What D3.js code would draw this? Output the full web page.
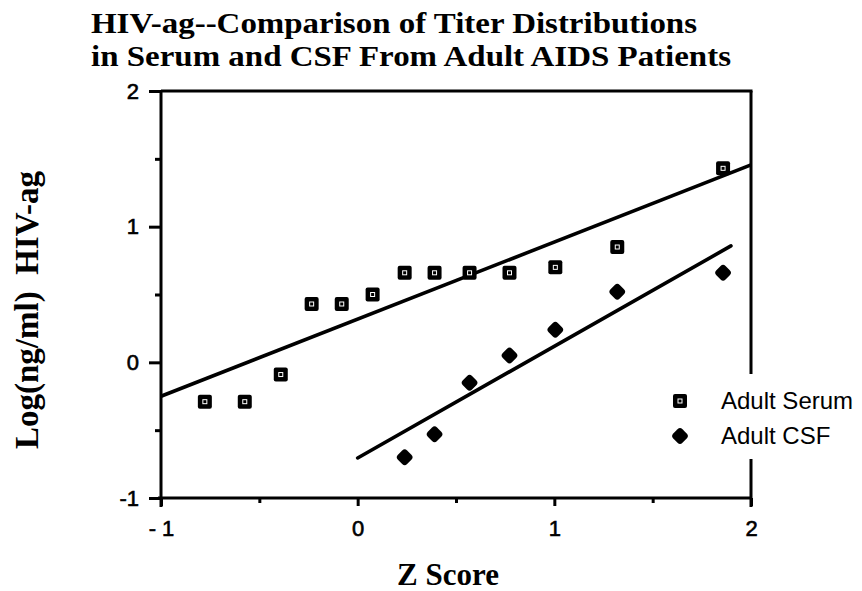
<!DOCTYPE html>
<html>
<head>
<meta charset="utf-8">
<script src="https://cdn.jsdelivr.net/npm/d3@7"></script>
<style>
  html, body { margin: 0; padding: 0; background: #fff; }
  svg { display: block; }
</style>
</head>
<body>
<svg id="chart" width="862" height="591"></svg>
<script>
// ---- data ----
const titleLines = ["HIV-ag--Comparison of Titer Distributions", "in Serum and CSF From Adult AIDS Patients"];
const xLabel = "Z Score";
const yLabel = "Log(ng/ml)\u00A0\u00A0HIV-ag";
const seriesNames = ["Adult Serum", "Adult CSF"];

const serumZ = [-0.777, -0.574, -0.391, -0.234, -0.081, 0.076, 0.239, 0.391, 0.569, 0.772, 1.005, 1.320, 1.858];
const serumY = [-0.29, -0.29, -0.09, 0.43, 0.43, 0.50, 0.66, 0.66, 0.66, 0.66, 0.70, 0.85, 1.43];
const csfZ = [0.239, 0.391, 0.569, 0.772, 1.005, 1.320, 1.858];
const csfY = [-0.70, -0.53, -0.15, 0.05, 0.24, 0.52, 0.66];

// fitted regression lines (endpoints)
const serumFitZ = [-1, 2];
const serumFitY = [-0.25, 1.455];
const csfFitZ = [0, 1.898];
const csfFitY = [-0.705, 0.858];

const xTicks = [-1, 0, 1, 2];
const xTickLabels = ["- 1", "0", "1", "2"];
const xMinorTicks = [-0.5, 0.5, 1.5];
const yTicks = [-1, 0, 1, 2];
const yTickLabels = ["-1", "0", "1", "2"];
const yMinorTicks = [-0.5, 0.5, 1.5];

// ---- layout ----
const L = 161, R = 751, T = 91, B = 498;
const svg = d3.select("#chart");
const x = d3.scaleLinear().domain([-1, 2]).range([L, R]);
const y = d3.scaleLinear().domain([-1, 2]).range([B, T]);

const serif = "'Liberation Serif', 'Times New Roman', serif";
const sans = "'Liberation Sans', Arial, Helvetica, sans-serif";

// title (two lines, slightly widened to match the original face)
const titleWidths = [606, 640];
svg.append("g").selectAll("text").data(titleLines).join("text")
  .attr("x", 91).attr("y", (d, i) => 33 + i * 33)
  .attr("font-family", serif).attr("font-weight", "bold").attr("font-size", 29.5)
  .attr("textLength", (d, i) => titleWidths[i]).attr("lengthAdjust", "spacingAndGlyphs")
  .attr("fill", "#000").text(d => d);

// frame
const frame = svg.append("g").attr("stroke", "#000").attr("stroke-width", 3).attr("fill", "none");
frame.append("line").attr("x1", x(-1) - 3).attr("x2", x(2)).attr("y1", y(-1)).attr("y2", y(-1));
frame.append("line").attr("x1", x(-1)).attr("x2", x(2) + 1.5).attr("y1", y(2)).attr("y2", y(2));
frame.append("line").attr("x1", x(-1)).attr("x2", x(-1)).attr("y1", y(2)).attr("y2", y(-1) + 9);
frame.append("line").attr("x1", x(2)).attr("x2", x(2)).attr("y1", y(2)).attr("y2", y(-1) + 9);

// axes (ticks + labels via d3 axes)
const yAxis = svg.append("g").attr("transform", `translate(${L},0)`)
  .call(d3.axisLeft(y).tickValues(yTicks).tickSize(12).tickPadding(10)
    .tickFormat((d, i) => yTickLabels[i]));
const yMinor = svg.append("g").attr("transform", `translate(${L},0)`)
  .call(d3.axisLeft(y).tickValues(yMinorTicks).tickSize(6).tickFormat(""));
const xAxis = svg.append("g").attr("transform", `translate(0,${B})`)
  .call(d3.axisBottom(x).tickValues(xTicks).tickSize(8).tickPadding(14)
    .tickFormat((d, i) => xTickLabels[i]));
const xMinor = svg.append("g").attr("transform", `translate(0,${B})`)
  .call(d3.axisBottom(x).tickValues(xMinorTicks).tickSize(5).tickFormat(""));

[yAxis, yMinor, xAxis, xMinor].forEach(g => {
  g.select(".domain").remove();
  g.selectAll(".tick line").attr("stroke", "#000").attr("stroke-width", 3);
  g.selectAll(".tick text").attr("font-family", sans).attr("font-size", 22).attr("fill", "#000")
    .attr("stroke", "#000").attr("stroke-width", 0.6);
});

// axis titles
svg.append("text")
  .attr("x", x(0.5) - 8).attr("y", 585)
  .attr("text-anchor", "middle")
  .attr("font-family", serif).attr("font-weight", "bold").attr("font-size", 31)
  .text(xLabel);
svg.append("text")
  .attr("transform", `translate(38,${310}) rotate(-90)`)
  .attr("text-anchor", "middle")
  .attr("font-family", serif).attr("font-weight", "bold").attr("font-size", 33)
  .text(yLabel);

// fit lines
const line = d3.line().x(d => x(d[0])).y(d => y(d[1]));
svg.append("path").datum(d3.zip(serumFitZ, serumFitY))
  .attr("d", line).attr("stroke", "#000").attr("stroke-width", 3.6).attr("fill", "none");
svg.append("path").datum(d3.zip(csfFitZ, csfFitY))
  .attr("d", line).attr("stroke", "#000").attr("stroke-width", 3.6).attr("fill", "none")
  .attr("stroke-linecap", "round");

// markers
function squareMarker(g) {
  g.append("rect").attr("x", -7).attr("y", -7).attr("width", 14).attr("height", 14)
    .attr("rx", 2).attr("fill", "#000");
  g.append("rect").attr("x", -2).attr("y", -2).attr("width", 4).attr("height", 4)
    .attr("fill", "none").attr("stroke", "#fff").attr("stroke-width", 1);
}
function diamondMarker(g) {
  g.append("rect").attr("x", -6.5).attr("y", -6.5).attr("width", 13).attr("height", 13)
    .attr("rx", 3.5).attr("fill", "#000").attr("transform", "rotate(45)");
}
svg.append("g").selectAll("g").data(d3.zip(serumZ, serumY)).join("g")
  .attr("transform", d => `translate(${x(d[0])},${y(d[1])})`)
  .each(function () { squareMarker(d3.select(this)); });
svg.append("g").selectAll("g").data(d3.zip(csfZ, csfY)).join("g")
  .attr("transform", d => `translate(${x(d[0])},${y(d[1])})`)
  .each(function () { diamondMarker(d3.select(this)); });

// legend (white background covers the right frame)
const lg = svg.append("g");
lg.append("rect").attr("x", 664).attr("y", 374).attr("width", 198).attr("height", 85).attr("fill", "#fff");
const legendItems = [
  { name: seriesNames[0], marker: squareMarker, cy: 401 },
  { name: seriesNames[1], marker: diamondMarker, cy: 436 }
];
legendItems.forEach(it => {
  const g = lg.append("g").attr("transform", `translate(680,${it.cy})`);
  it.marker(g);
  lg.append("text").attr("x", 721).attr("y", it.cy + 8)
    .attr("font-family", sans).attr("font-size", 24).attr("fill", "#000").text(it.name);
});
</script>
</body>
</html>
